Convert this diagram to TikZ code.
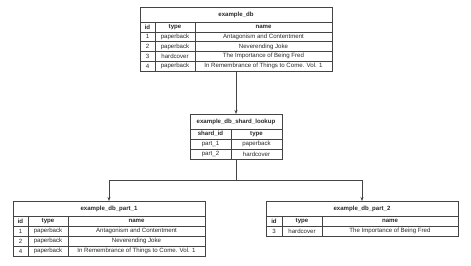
\documentclass[tikz,border=0pt]{standalone}
\usepackage{fontspec}
\setmainfont{Liberation Sans}
\usetikzlibrary{arrows.meta}
\definecolor{ln}{HTML}{444444}
\definecolor{tx}{HTML}{2a2a2a}
\begin{document}
\begin{tikzpicture}[x=1pt,y=-1pt,
  tbl/.style={draw=ln,line width=0.6pt,inner sep=0,outer sep=0,anchor=north west,fill=white},
  grid/.style={draw=ln,line width=0.45pt},
  cell/.style={font=\fontsize{6.1}{7}\selectfont,text=tx,inner sep=0},
  hcell/.style={font=\fontsize{6.1}{7}\selectfont\bfseries,text=tx,inner sep=0},
  arr/.style={draw=ln,line width=0.6pt,-{Stealth[length=4pt,width=3pt]}},
  con/.style={draw=ln,line width=0.6pt}]
\useasboundingbox (0,0) rectangle (471,265);
% ---------- example_db ----------
\node[tbl,minimum width=192pt,minimum height=64pt] (t0) at (140,7) {};
\draw[grid] (140,22)--(332,22) (140,31.8)--(332,31.8) (140,41.6)--(332,41.6) (140,51.4)--(332,51.4) (140,61.2)--(332,61.2);
\draw[grid] (155,22)--(155,71) (195,22)--(195,71);
\node[hcell] (t0h) at (236,14.5) {example\_db};
\node[hcell] (t0c1) at (147.5,26.9) {id};
\node[hcell] (t0c2) at (175,26.9) {type};
\node[hcell] (t0c3) at (263.5,26.9) {name};
\node[cell] (t0a1) at (147.5,36.7) {1};
\node[cell] (t0b1) at (175,36.7) {paperback};
\node[cell] (t0n1) at (263.5,36.7) {Antagonism and Contentment};
\node[cell] (t0a2) at (147.5,46.5) {2};
\node[cell] (t0b2) at (175,46.5) {paperback};
\node[cell] (t0n2) at (263.5,46.5) {Neverending Joke};
\node[cell] (t0a3) at (147.5,56.3) {3};
\node[cell] (t0b3) at (175,56.3) {hardcover};
\node[cell] (t0n3) at (263.5,56.3) {The Importance of Being Fred};
\node[cell] (t0a4) at (147.5,66.1) {4};
\node[cell] (t0b4) at (175,66.1) {paperback};
\node[cell] (t0n4) at (263.5,66.1) {In Remembrance of Things to Come. Vol. 1};
% ---------- example_db_shard_lookup ----------
\node[tbl,minimum width=92pt,minimum height=45pt] (lk) at (190,114) {};
\draw[grid] (190,129)--(282,129) (190,139)--(282,139) (190,149)--(282,149);
\draw[grid] (231,129)--(231,159);
\node[hcell] (lkh) at (236,121.5) {example\_db\_shard\_lookup};
\node[hcell] (lkc1) at (210.5,134) {shard\_id};
\node[hcell] (lkc2) at (256.5,134) {type};
\node[cell] (lka1) at (210.5,144) {part\_1};
\node[cell] (lkb1) at (256.5,144) {paperback};
\node[cell] (lka2) at (210.5,154) {part\_2};
\node[cell] (lkb2) at (256.5,154) {hardcover};
% ---------- example_db_part_1 ----------
\node[tbl,minimum width=192pt,minimum height=55pt] (p1) at (13,201) {};
\draw[grid] (13,216)--(205,216) (13,226)--(205,226) (13,236)--(205,236) (13,246)--(205,246);
\draw[grid] (28,216)--(28,256) (68,216)--(68,256);
\node[hcell] (p1h) at (109,208.5) {example\_db\_part\_1};
\node[hcell] (p1c1) at (20.5,221) {id};
\node[hcell] (p1c2) at (48,221) {type};
\node[hcell] (p1c3) at (136.5,221) {name};
\node[cell] (p1a1) at (20.5,231) {1};
\node[cell] (p1b1) at (48,231) {paperback};
\node[cell] (p1n1) at (136.5,231) {Antagonism and Contentment};
\node[cell] (p1a2) at (20.5,241) {2};
\node[cell] (p1b2) at (48,241) {paperback};
\node[cell] (p1n2) at (136.5,241) {Neverending Joke};
\node[cell] (p1a3) at (20.5,251) {4};
\node[cell] (p1b3) at (48,251) {paperback};
\node[cell] (p1n3) at (136.5,251) {In Remembrance of Things to Come. Vol. 1};
% ---------- example_db_part_2 ----------
\node[tbl,minimum width=192pt,minimum height=35pt] (p2) at (266,201) {};
\draw[grid] (266,216)--(458,216) (266,226)--(458,226);
\draw[grid] (282,216)--(282,236) (322,216)--(322,236);
\node[hcell] (p2h) at (362,208.5) {example\_db\_part\_2};
\node[hcell] (p2c1) at (274,221) {id};
\node[hcell] (p2c2) at (302,221) {type};
\node[hcell] (p2c3) at (390,221) {name};
\node[cell] (p2a1) at (274,231) {3};
\node[cell] (p2b1) at (302,231) {hardcover};
\node[cell] (p2n1) at (390,231) {The Importance of Being Fred};
% ---------- connectors ----------
\coordinate (j) at (236,180);
\draw[arr] (t0.south) -- (lk.north);
\draw[con] (lk.south) -- (j);
\draw[arr] (j) -| (p1.north);
\draw[arr] (j) -| (p2.north);
\end{tikzpicture}
\end{document}
